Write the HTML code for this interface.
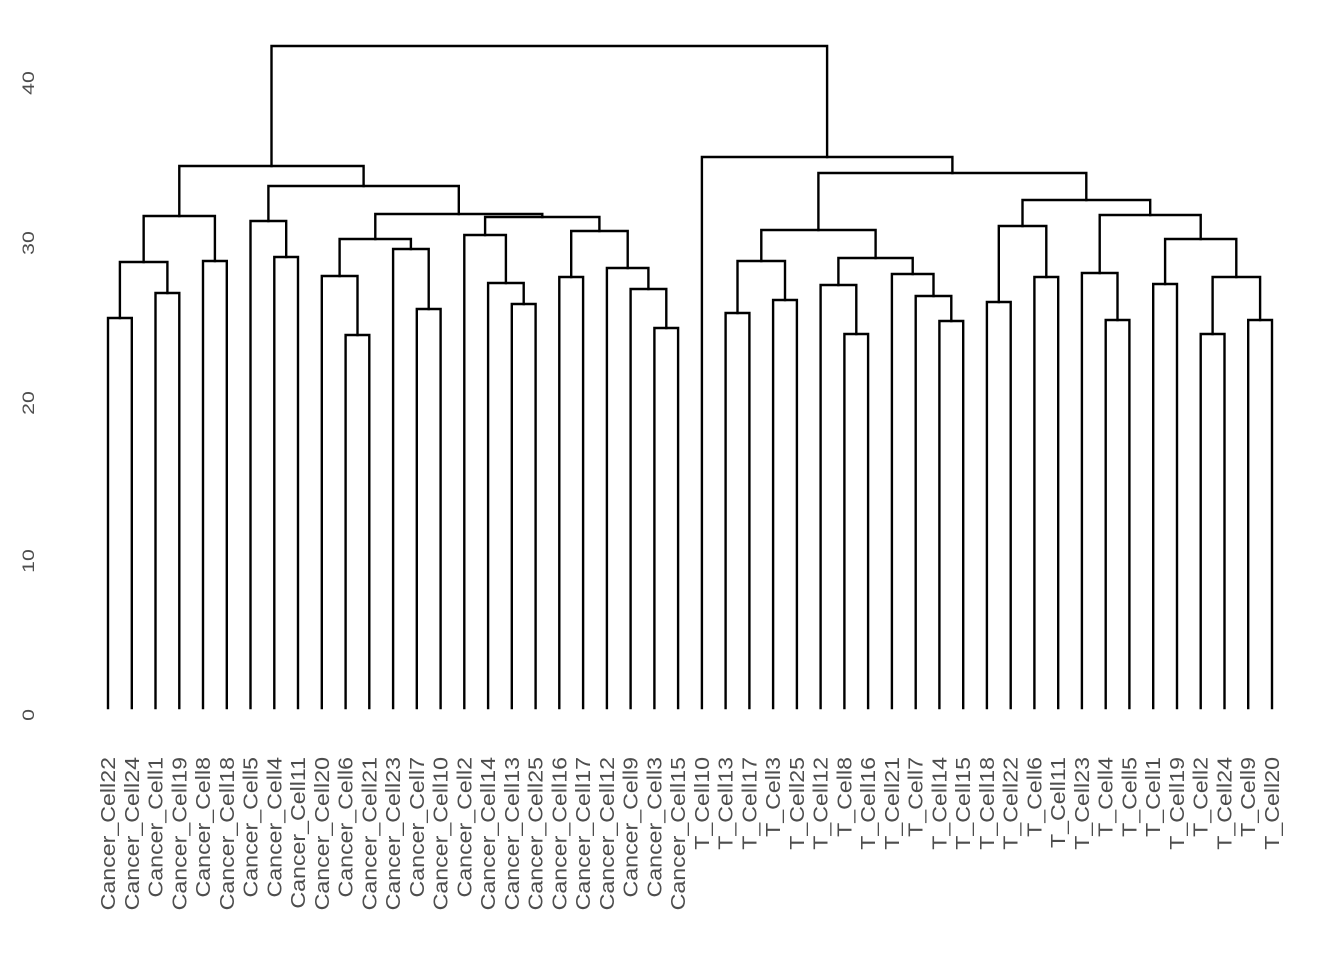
<!DOCTYPE html>
<html><head><meta charset="utf-8"><style>html,body{margin:0;padding:0;background:#fff}svg{display:block}</style></head>
<body>
<svg width="1344" height="960" viewBox="0 0 1344 960" xmlns="http://www.w3.org/2000/svg">
<g fill="none" stroke="#000" stroke-width="2.4" stroke-linecap="square" stroke-linejoin="miter">
<path d="M108 708V318H131.8V708"/>
<path d="M155.5 708V293H179.3V708"/>
<path d="M119.9 318V262H167.4V293"/>
<path d="M203 708V261H226.8V708"/>
<path d="M143.65 262V216H214.9V261"/>
<path d="M274.3 708V257H298V708"/>
<path d="M250.5 708V221H286.2V257"/>
<path d="M345.6 708V335H369.3V708"/>
<path d="M321.8 708V276H357.5V335"/>
<path d="M416.8 708V309H440.6V708"/>
<path d="M393.1 708V249H428.7V309"/>
<path d="M339.6 276V239H410.9V249"/>
<path d="M511.8 708V304H535.6V708"/>
<path d="M488.1 708V283H523.7V304"/>
<path d="M464.3 708V235H505.9V283"/>
<path d="M559.3 708V277H583.1V708"/>
<path d="M654.4 708V328H678.1V708"/>
<path d="M630.6 708V289H666.3V328"/>
<path d="M606.9 708V268H648.4V289"/>
<path d="M571.2 277V231H627.7V268"/>
<path d="M485.1 235V217H599.4V231"/>
<path d="M375.3 239V214H542.3V217"/>
<path d="M268.4 221V186H458.8V214"/>
<path d="M179.3 216V166H363.6V186"/>
<path d="M725.6 708V313H749.4V708"/>
<path d="M773.1 708V300H796.9V708"/>
<path d="M737.5 313V261H785V300"/>
<path d="M844.4 708V334H868.1V708"/>
<path d="M820.6 708V285H856.3V334"/>
<path d="M939.4 708V321H963.2V708"/>
<path d="M915.7 708V296H951.3V321"/>
<path d="M891.9 708V274H933.5V296"/>
<path d="M838.4 285V258H912.7V274"/>
<path d="M761.3 261V230H875.6V258"/>
<path d="M986.9 708V302H1010.7V708"/>
<path d="M1034.4 708V277H1058.2V708"/>
<path d="M998.8 302V226H1046.3V277"/>
<path d="M1105.7 708V320H1129.4V708"/>
<path d="M1081.9 708V273H1117.5V320"/>
<path d="M1153.2 708V284H1177V708"/>
<path d="M1200.7 708V334H1224.5V708"/>
<path d="M1248.2 708V320H1272V708"/>
<path d="M1212.6 334V277H1260.1V320"/>
<path d="M1165.1 284V239H1236.3V277"/>
<path d="M1099.7 273V215H1200.7V239"/>
<path d="M1022.5 226V200H1150.2V215"/>
<path d="M818.4 230V173H1086.3V200"/>
<path d="M701.9 708V157H952.4V173"/>
<path d="M271.5 166V46H827.1V157"/>
</g>
<g font-family="Liberation Sans, sans-serif" font-size="17" fill="#4d4d4d" text-anchor="middle">
<text transform="translate(34,83) rotate(-90) scale(1.25,1)">40</text>
<text transform="translate(34,243) rotate(-90) scale(1.25,1)">30</text>
<text transform="translate(34,403) rotate(-90) scale(1.25,1)">20</text>
<text transform="translate(34,561) rotate(-90) scale(1.25,1)">10</text>
<text transform="translate(34,715) rotate(-90) scale(1.25,1)">0</text>
</g>
<g font-family="Liberation Sans, sans-serif" font-size="20" fill="#4d4d4d" text-anchor="end">
<text transform="translate(115,757) rotate(-90) scale(1.16,1)">Cancer_Cell22</text>
<text transform="translate(138.8,757) rotate(-90) scale(1.16,1)">Cancer_Cell24</text>
<text transform="translate(162.5,757) rotate(-90) scale(1.16,1)">Cancer_Cell1</text>
<text transform="translate(186.3,757) rotate(-90) scale(1.16,1)">Cancer_Cell19</text>
<text transform="translate(210,757) rotate(-90) scale(1.16,1)">Cancer_Cell8</text>
<text transform="translate(233.8,757) rotate(-90) scale(1.16,1)">Cancer_Cell18</text>
<text transform="translate(257.5,757) rotate(-90) scale(1.16,1)">Cancer_Cell5</text>
<text transform="translate(281.3,757) rotate(-90) scale(1.16,1)">Cancer_Cell4</text>
<text transform="translate(305,757) rotate(-90) scale(1.16,1)">Cancer_Cell11</text>
<text transform="translate(328.8,757) rotate(-90) scale(1.16,1)">Cancer_Cell20</text>
<text transform="translate(352.6,757) rotate(-90) scale(1.16,1)">Cancer_Cell6</text>
<text transform="translate(376.3,757) rotate(-90) scale(1.16,1)">Cancer_Cell21</text>
<text transform="translate(400.1,757) rotate(-90) scale(1.16,1)">Cancer_Cell23</text>
<text transform="translate(423.8,757) rotate(-90) scale(1.16,1)">Cancer_Cell7</text>
<text transform="translate(447.6,757) rotate(-90) scale(1.16,1)">Cancer_Cell10</text>
<text transform="translate(471.3,757) rotate(-90) scale(1.16,1)">Cancer_Cell2</text>
<text transform="translate(495.1,757) rotate(-90) scale(1.16,1)">Cancer_Cell14</text>
<text transform="translate(518.8,757) rotate(-90) scale(1.16,1)">Cancer_Cell13</text>
<text transform="translate(542.6,757) rotate(-90) scale(1.16,1)">Cancer_Cell25</text>
<text transform="translate(566.3,757) rotate(-90) scale(1.16,1)">Cancer_Cell16</text>
<text transform="translate(590.1,757) rotate(-90) scale(1.16,1)">Cancer_Cell17</text>
<text transform="translate(613.9,757) rotate(-90) scale(1.16,1)">Cancer_Cell12</text>
<text transform="translate(637.6,757) rotate(-90) scale(1.16,1)">Cancer_Cell9</text>
<text transform="translate(661.4,757) rotate(-90) scale(1.16,1)">Cancer_Cell3</text>
<text transform="translate(685.1,757) rotate(-90) scale(1.16,1)">Cancer_Cell15</text>
<text transform="translate(708.9,757) rotate(-90) scale(1.16,1)">T_Cell10</text>
<text transform="translate(732.6,757) rotate(-90) scale(1.16,1)">T_Cell13</text>
<text transform="translate(756.4,757) rotate(-90) scale(1.16,1)">T_Cell17</text>
<text transform="translate(780.1,757) rotate(-90) scale(1.16,1)">T_Cell3</text>
<text transform="translate(803.9,757) rotate(-90) scale(1.16,1)">T_Cell25</text>
<text transform="translate(827.6,757) rotate(-90) scale(1.16,1)">T_Cell12</text>
<text transform="translate(851.4,757) rotate(-90) scale(1.16,1)">T_Cell8</text>
<text transform="translate(875.1,757) rotate(-90) scale(1.16,1)">T_Cell16</text>
<text transform="translate(898.9,757) rotate(-90) scale(1.16,1)">T_Cell21</text>
<text transform="translate(922.7,757) rotate(-90) scale(1.16,1)">T_Cell7</text>
<text transform="translate(946.4,757) rotate(-90) scale(1.16,1)">T_Cell14</text>
<text transform="translate(970.2,757) rotate(-90) scale(1.16,1)">T_Cell15</text>
<text transform="translate(993.9,757) rotate(-90) scale(1.16,1)">T_Cell18</text>
<text transform="translate(1017.7,757) rotate(-90) scale(1.16,1)">T_Cell22</text>
<text transform="translate(1041.4,757) rotate(-90) scale(1.16,1)">T_Cell6</text>
<text transform="translate(1065.2,757) rotate(-90) scale(1.16,1)">T_Cell11</text>
<text transform="translate(1088.9,757) rotate(-90) scale(1.16,1)">T_Cell23</text>
<text transform="translate(1112.7,757) rotate(-90) scale(1.16,1)">T_Cell4</text>
<text transform="translate(1136.4,757) rotate(-90) scale(1.16,1)">T_Cell5</text>
<text transform="translate(1160.2,757) rotate(-90) scale(1.16,1)">T_Cell1</text>
<text transform="translate(1184,757) rotate(-90) scale(1.16,1)">T_Cell19</text>
<text transform="translate(1207.7,757) rotate(-90) scale(1.16,1)">T_Cell2</text>
<text transform="translate(1231.5,757) rotate(-90) scale(1.16,1)">T_Cell24</text>
<text transform="translate(1255.2,757) rotate(-90) scale(1.16,1)">T_Cell9</text>
<text transform="translate(1279,757) rotate(-90) scale(1.16,1)">T_Cell20</text>
</g>
</svg>
</body></html>
